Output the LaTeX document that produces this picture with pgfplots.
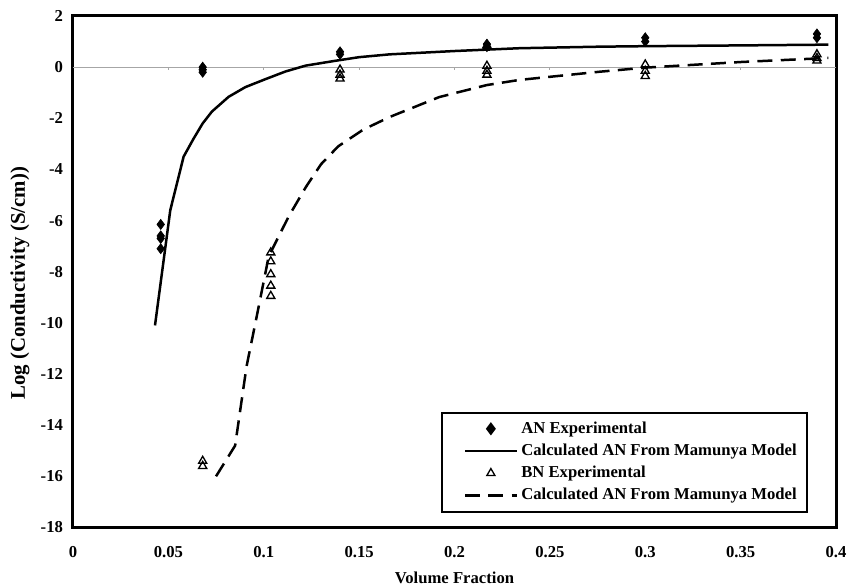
\documentclass[border=0pt]{standalone}
\usepackage{pgfplots}
\pgfplotsset{compat=1.18}
\usepackage{fontspec}
\setmainfont{Liberation Serif}
\pgfplotsset{
  lineleg/.style={legend image code/.code={\path[draw=none] (0pt,0pt) -- (41pt,0pt); \draw[##1] (10pt,0pt) -- (41pt,0pt);}},
  markleg/.style={legend image code/.code={\path[draw=none] (0pt,0pt) -- (41pt,0pt); \draw[mark repeat=2,mark phase=2,##1] plot coordinates {(10pt,0pt) (25.5pt,0pt) (41pt,0pt)};}},
}
\begin{document}
\begin{tikzpicture}
\begin{axis}[
  name=ax,
  width=458pt, height=307pt, scale only axis,
  xmin=0, xmax=0.4, ymin=-18, ymax=2,
  xtick={0,0.05,0.1,0.15,0.2,0.25,0.3,0.35,0.4},
  xticklabels={0,0.05,0.1,0.15,0.2,0.25,0.3,0.35,0.4},
  ytick={-18,-16,-14,-12,-10,-8,-6,-4,-2,0,2},
  yticklabels={-18,-16,-14,-12,-10,-8,-6,-4,-2,0,2},
  major tick length=0pt,
  axis line style={line width=1.8pt},
  tick label style={font=\bfseries\fontsize{10}{12}\selectfont},
  xticklabel style={yshift=-8pt},
  yticklabel style={xshift=-2.5pt},
  xlabel={Volume Fraction}, ylabel={Log (Conductivity (S/cm))},
  xlabel style={font=\bfseries\fontsize{10}{12}\selectfont,
    at={(axis description cs:0.5,0)}, anchor=center, yshift=-30pt},
  ylabel style={font=\bfseries\fontsize{12.5}{14}\selectfont,
    at={(axis description cs:-0.0695,0.4775)}, anchor=center},
  legend style={at={(0.963,0.029)}, anchor=south east, draw=black,
    line width=1.2pt, font=\bfseries\fontsize{10}{12}\selectfont,
    row sep=0.9pt, inner xsep=4pt, inner ysep=3.5pt},
  legend cell align=left,
]
% horizontal axis line at zero
\draw[gray!70, line width=0.6pt] (axis cs:0,0) -- (axis cs:0.4,0);
\pgfplotsinvokeforeach{0.05,0.1,0.15,0.2,0.25,0.3,0.35}{
  \draw[gray!70, line width=0.6pt] (axis cs:#1,0) -- (axis cs:#1,-0.12);
}

\addplot[only marks, mark=diamond*, mark size=3pt, black, markleg]
  coordinates {
  (0.046,-6.15) (0.046,-6.6) (0.046,-6.7) (0.046,-7.1)
  (0.068,0) (0.068,-0.1) (0.068,-0.2)
  (0.14,0.6) (0.14,0.5)
  (0.217,0.9) (0.217,0.8)
  (0.30,1.15) (0.30,1.0)
  (0.39,1.3) (0.39,1.15)
};
\addlegendentry{AN Experimental}

\addplot[black, line width=1.5pt, no marks, lineleg]
  coordinates {
  (0.043,-10.1) (0.051,-5.6) (0.058,-3.5) (0.0632,-2.8) (0.068,-2.2)
  (0.0728,-1.74) (0.0816,-1.16) (0.0904,-0.78) (0.1009,-0.47) (0.1114,-0.17)
  (0.122,0.06) (0.1377,0.25) (0.15,0.39) (0.166,0.5) (0.2,0.63) (0.234,0.74)
  (0.276,0.8) (0.3,0.82) (0.35,0.85) (0.396,0.88)
};
\addlegendentry{Calculated AN From Mamunya Model}

\addplot[only marks, mark=triangle, mark size=2.8pt, black, mark options={line width=0.8pt}, markleg]
  coordinates {
  (0.068,-15.4) (0.068,-15.6)
  (0.1037,-7.25) (0.1037,-7.6) (0.1037,-8.1) (0.1037,-8.55) (0.1037,-8.95)
  (0.14,-0.1) (0.14,-0.3) (0.14,-0.45)
  (0.217,0.85) (0.217,0.8) (0.217,0.05) (0.217,-0.15) (0.217,-0.3)
  (0.30,0.1) (0.30,-0.15) (0.30,-0.35)
  (0.39,0.5) (0.39,0.35) (0.39,0.25)
};
\addlegendentry{BN Experimental}

\addplot[black, line width=1.5pt, no marks, dash pattern=on 9pt off 5pt, lineleg]
  coordinates {
  (0.075,-16) (0.085,-14.8) (0.091,-11.7) (0.097,-9.5) (0.1026,-7.4)
  (0.113,-5.85) (0.122,-4.7) (0.13,-3.8) (0.139,-3.1) (0.152,-2.45)
  (0.166,-1.95) (0.192,-1.17) (0.217,-0.7) (0.234,-0.5) (0.276,-0.18)
  (0.3,-0.02) (0.35,0.2) (0.396,0.36)
};
\addlegendentry{Calculated AN From Mamunya Model}
\end{axis}
\pgfresetboundingbox
\path ([shift={(-43.8pt,-34.2pt)}]ax.south west) rectangle ([shift={(6.6pt,9.6pt)}]ax.north east);
\end{tikzpicture}
\end{document}
